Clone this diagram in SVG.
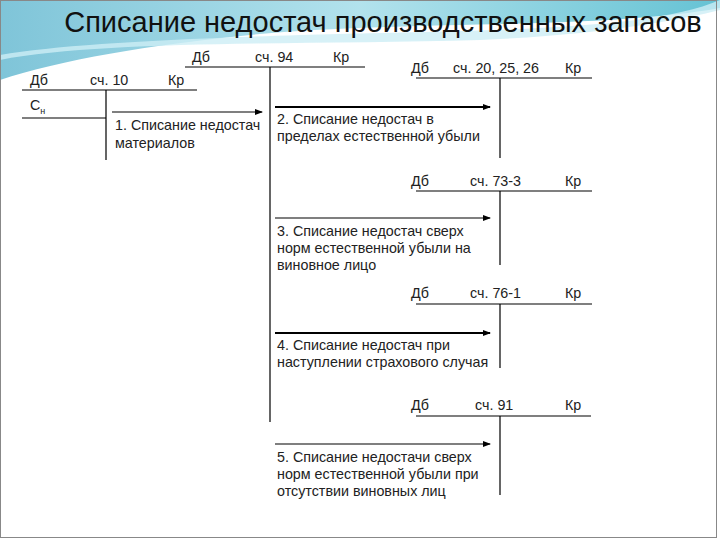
<svg xmlns="http://www.w3.org/2000/svg" width="720" height="540" viewBox="0 0 720 540">
<defs>
<linearGradient id="g" x1="0" y1="0" x2="1" y2="0"><stop offset="0" stop-color="#5fb6cf"/><stop offset="0.5" stop-color="#9fdbe8"/><stop offset="1" stop-color="#3fb3c9"/></linearGradient>
<marker id="ah" markerWidth="8" markerHeight="6" refX="7" refY="3" orient="auto" markerUnits="userSpaceOnUse"><path d="M0,0 L8,3 L0,6 Z" fill="#000"/></marker>
<style>
text{font-family:"Liberation Sans",Arial,sans-serif;font-size:14.3px;fill:#222}
.t{font-size:29px;fill:#111}
.l{stroke:#000;stroke-width:1.2;fill:none}
.a{stroke:#000;stroke-width:1.2;marker-end:url(#ah)}
.b{stroke:#000;stroke-width:2.2;marker-end:url(#ah)}
</style>
</defs>
<rect width="720" height="540" fill="#fff"/>
<path d="M0,0 H720 V8 C600,30 400,20 250,35 C150,45 60,60 0,80 Z" fill="url(#g)" opacity="0.8"/>
<path d="M0,60 C100,40 300,45 480,40 C600,35 680,20 720,10 V0 H720 C650,30 500,30 300,35 C150,40 60,45 0,55 Z" fill="#cdeef5" opacity="0.8"/>
<rect x="0.5" y="0.5" width="716" height="537" fill="none" stroke="#888" stroke-width="1"/>
<text class="t" x="383" y="32" text-anchor="middle">Списание недостач производственных запасов</text>
<g id="acc94"><text x="192" y="62">Дб</text><text x="255" y="62">сч. 94</text><text x="333" y="62">Кр</text><path class="l" d="M185,67 H365 M270,67 V422"/></g>
<g id="acc10"><text x="30" y="85">Дб</text><text x="90" y="85">сч. 10</text><text x="168" y="85">Кр</text><text x="30" y="110">С<tspan font-size="9" dy="4">н</tspan></text><path class="l" d="M22,90 H197 M106,90 V160 M22,118 H106"/></g>
<g id="acc20"><text x="411" y="73">Дб</text><text x="453" y="73">сч. 20, 25, 26</text><text x="565" y="73">Кр</text><path class="l" d="M416,78 H592 M500,78 V158"/></g>
<g id="acc73"><text x="411" y="186">Дб</text><text x="470" y="186">сч. 73-3</text><text x="565" y="186">Кр</text><path class="l" d="M416,191 H592 M500,191 V265"/></g>
<g id="acc76"><text x="411" y="298">Дб</text><text x="470" y="298">сч. 76-1</text><text x="565" y="298">Кр</text><path class="l" d="M416,304 H592 M500,304 V368"/></g>
<g id="acc91"><text x="411" y="410">Дб</text><text x="475" y="410">сч. 91</text><text x="565" y="410">Кр</text><path class="l" d="M416,416 H591 M500,416 V495"/></g>
<g id="connectors">
<line class="a" x1="112" y1="112" x2="262" y2="112"/>
<line class="b" x1="275" y1="107" x2="490" y2="107"/>
<line class="a" x1="275" y1="218" x2="490" y2="218"/>
<line class="b" x1="275" y1="333" x2="490" y2="333"/>
<line class="a" x1="275" y1="444" x2="490" y2="444"/>
</g>
<g id="labels">
<text x="115" y="130">1. Списание недостач</text><text x="115" y="148">материалов</text>
<text x="277" y="124">2. Списание недостач в</text><text x="277" y="141">пределах естественной убыли</text>
<text x="277" y="236">3. Списание недостач сверх</text><text x="277" y="253">норм естественной убыли на</text><text x="277" y="270">виновное лицо</text>
<text x="277" y="350">4. Списание недостач при</text><text x="277" y="367">наступлении страхового случая</text>
<text x="277" y="462">5. Списание недостачи сверх</text><text x="277" y="479">норм естественной убыли при</text><text x="277" y="496">отсутствии виновных лиц</text>
</g>
</svg>
